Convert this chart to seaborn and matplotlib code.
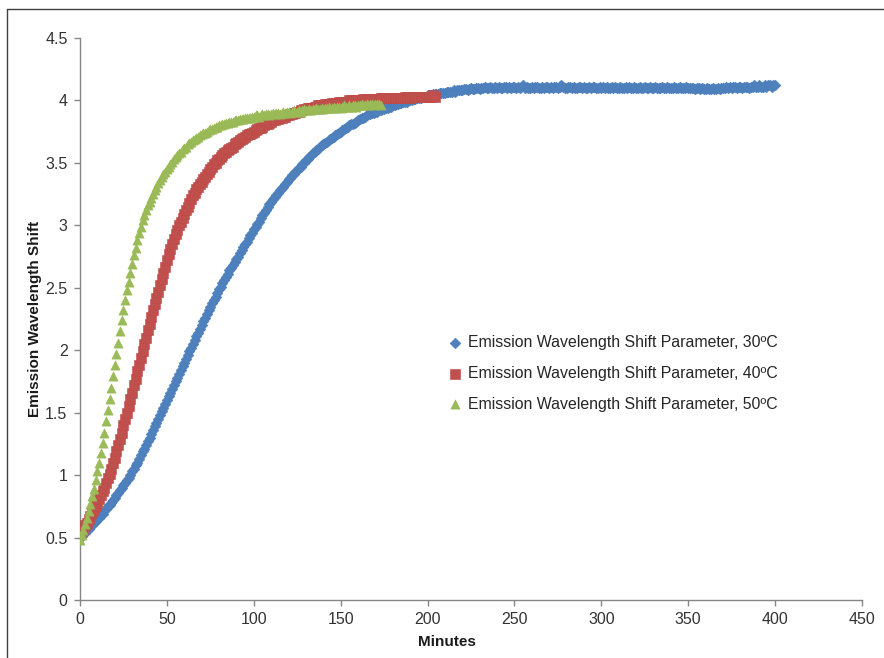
import numpy as np
import pandas as pd
import matplotlib
matplotlib.use("Agg")
import matplotlib.pyplot as plt
from matplotlib.lines import Line2D
import seaborn as sns

# Emission wavelength shift parameter, one reading per minute
# 30 C: 0..400 min
shift_30 = [
    0.50, 0.51, 0.53, 0.54, 0.56, 0.57, 0.59, 0.60, 0.62, 0.63,
    0.65, 0.66, 0.68, 0.69, 0.71, 0.73, 0.75, 0.76, 0.78, 0.80,
    0.82, 0.84, 0.86, 0.88, 0.90, 0.92, 0.94, 0.96, 0.98, 1.00,
    1.03, 1.05, 1.08, 1.10, 1.13, 1.16, 1.19, 1.21, 1.24, 1.27,
    1.30, 1.33, 1.36, 1.39, 1.42, 1.45, 1.48, 1.51, 1.54, 1.57,
    1.60, 1.63, 1.66, 1.69, 1.72, 1.75, 1.78, 1.81, 1.84, 1.87,
    1.90, 1.93, 1.96, 1.99, 2.02, 2.05, 2.08, 2.11, 2.14, 2.17,
    2.20, 2.23, 2.26, 2.29, 2.32, 2.35, 2.38, 2.40, 2.43, 2.46,
    2.49, 2.51, 2.54, 2.56, 2.59, 2.61, 2.64, 2.66, 2.68, 2.71,
    2.73, 2.75, 2.78, 2.80, 2.83, 2.85, 2.87, 2.90, 2.92, 2.94,
    2.97, 2.99, 3.01, 3.03, 3.06, 3.08, 3.10, 3.12, 3.15, 3.17,
    3.19, 3.21, 3.23, 3.24, 3.26, 3.28, 3.30, 3.31, 3.33, 3.35,
    3.37, 3.38, 3.40, 3.41, 3.43, 3.44, 3.46, 3.47, 3.49, 3.50,
    3.52, 3.53, 3.55, 3.56, 3.58, 3.59, 3.60, 3.61, 3.63, 3.64,
    3.65, 3.66, 3.67, 3.68, 3.69, 3.70, 3.71, 3.72, 3.73, 3.74,
    3.75, 3.76, 3.77, 3.78, 3.79, 3.80, 3.81, 3.81, 3.82, 3.83,
    3.84, 3.85, 3.86, 3.86, 3.87, 3.88, 3.89, 3.89, 3.90, 3.90,
    3.91, 3.91, 3.92, 3.92, 3.93, 3.93, 3.94, 3.94, 3.95, 3.95,
    3.96, 3.96, 3.97, 3.97, 3.98, 3.98, 3.99, 3.99, 3.99, 4.00,
    4.00, 4.00, 4.01, 4.01, 4.02, 4.02, 4.02, 4.03, 4.03, 4.03,
    4.04, 4.04, 4.04, 4.05, 4.05, 4.05, 4.05, 4.06, 4.06, 4.06,
    4.06, 4.07, 4.07, 4.07, 4.07, 4.08, 4.07, 4.08, 4.08, 4.08,
    4.08, 4.09, 4.09, 4.08, 4.09, 4.10, 4.09, 4.09, 4.10, 4.10,
    4.09, 4.10, 4.10, 4.11, 4.10, 4.10, 4.11, 4.10, 4.10, 4.11,
    4.10, 4.11, 4.10, 4.10, 4.11, 4.11, 4.10, 4.11, 4.10, 4.11,
    4.11, 4.10, 4.11, 4.10, 4.11, 4.12, 4.10, 4.11, 4.10, 4.10,
    4.11, 4.10, 4.11, 4.11, 4.10, 4.10, 4.11, 4.10, 4.11, 4.11,
    4.10, 4.11, 4.10, 4.11, 4.11, 4.10, 4.11, 4.12, 4.11, 4.10,
    4.10, 4.11, 4.11, 4.10, 4.11, 4.10, 4.10, 4.11, 4.11, 4.10,
    4.11, 4.10, 4.10, 4.11, 4.10, 4.11, 4.11, 4.10, 4.10, 4.11,
    4.10, 4.11, 4.10, 4.11, 4.10, 4.10, 4.11, 4.10, 4.11, 4.10,
    4.10, 4.11, 4.10, 4.10, 4.11, 4.10, 4.11, 4.10, 4.10, 4.11,
    4.10, 4.10, 4.11, 4.10, 4.10, 4.11, 4.10, 4.10, 4.11, 4.10,
    4.10, 4.11, 4.10, 4.10, 4.10, 4.11, 4.10, 4.10, 4.11, 4.10,
    4.10, 4.10, 4.11, 4.10, 4.10, 4.11, 4.10, 4.10, 4.10, 4.11,
    4.10, 4.10, 4.10, 4.10, 4.09, 4.10, 4.10, 4.09, 4.10, 4.09,
    4.09, 4.10, 4.09, 4.09, 4.10, 4.09, 4.09, 4.10, 4.09, 4.10,
    4.10, 4.10, 4.11, 4.10, 4.11, 4.10, 4.11, 4.11, 4.10, 4.11,
    4.11, 4.10, 4.11, 4.11, 4.11, 4.10, 4.11, 4.11, 4.12, 4.11,
    4.11, 4.12, 4.11, 4.11, 4.12, 4.11, 4.12, 4.12, 4.11, 4.12,
    4.12,
]
# 40 C: 0..204 min
shift_40 = [
    0.53, 0.55, 0.57, 0.60, 0.62, 0.65, 0.67, 0.70, 0.72, 0.75,
    0.78, 0.81, 0.84, 0.87, 0.90, 0.94, 0.98, 1.01, 1.05, 1.10,
    1.14, 1.19, 1.24, 1.29, 1.34, 1.40, 1.45, 1.50, 1.55, 1.61,
    1.66, 1.72, 1.77, 1.83, 1.88, 1.94, 1.99, 2.05, 2.10, 2.16,
    2.21, 2.27, 2.32, 2.37, 2.42, 2.47, 2.52, 2.57, 2.62, 2.67,
    2.72, 2.77, 2.81, 2.85, 2.89, 2.93, 2.96, 3.00, 3.03, 3.06,
    3.09, 3.12, 3.15, 3.18, 3.21, 3.24, 3.26, 3.29, 3.31, 3.33,
    3.35, 3.37, 3.39, 3.41, 3.43, 3.45, 3.47, 3.49, 3.50, 3.52,
    3.53, 3.55, 3.56, 3.58, 3.59, 3.60, 3.61, 3.62, 3.63, 3.65,
    3.66, 3.67, 3.68, 3.69, 3.70, 3.71, 3.72, 3.73, 3.73, 3.74,
    3.75, 3.76, 3.77, 3.78, 3.78, 3.79, 3.80, 3.81, 3.81, 3.82,
    3.83, 3.84, 3.84, 3.85, 3.85, 3.86, 3.86, 3.87, 3.87, 3.88,
    3.88, 3.89, 3.89, 3.90, 3.90, 3.91, 3.91, 3.92, 3.92, 3.93,
    3.93, 3.94, 3.94, 3.94, 3.94, 3.95, 3.95, 3.96, 3.96, 3.96,
    3.96, 3.97, 3.97, 3.97, 3.97, 3.98, 3.98, 3.98, 3.98, 3.99,
    3.99, 3.99, 3.99, 3.99, 3.99, 4.00, 4.00, 4.00, 4.00, 4.00,
    4.00, 4.00, 4.00, 4.01, 4.01, 4.01, 4.01, 4.01, 4.01, 4.01,
    4.01, 4.01, 4.01, 4.02, 4.02, 4.02, 4.02, 4.02, 4.02, 4.02,
    4.02, 4.02, 4.02, 4.02, 4.02, 4.02, 4.02, 4.03, 4.03, 4.02,
    4.02, 4.03, 4.03, 4.03, 4.03, 4.03, 4.03, 4.03, 4.03, 4.03,
    4.03, 4.03, 4.03, 4.04, 4.03,
]
# 50 C: 0..173 min
shift_50 = [
    0.48, 0.52, 0.56, 0.61, 0.66, 0.71, 0.77, 0.83, 0.89, 0.96,
    1.03, 1.10, 1.18, 1.26, 1.34, 1.43, 1.52, 1.61, 1.70, 1.79,
    1.88, 1.97, 2.06, 2.15, 2.24, 2.32, 2.40, 2.48, 2.55, 2.62,
    2.69, 2.76, 2.82, 2.88, 2.94, 2.99, 3.04, 3.08, 3.12, 3.16,
    3.19, 3.22, 3.25, 3.28, 3.31, 3.34, 3.36, 3.39, 3.41, 3.43,
    3.45, 3.47, 3.49, 3.51, 3.53, 3.55, 3.56, 3.58, 3.59, 3.61,
    3.62, 3.63, 3.65, 3.66, 3.67, 3.68, 3.69, 3.70, 3.71, 3.72,
    3.73, 3.74, 3.74, 3.75, 3.76, 3.77, 3.77, 3.78, 3.79, 3.79,
    3.80, 3.80, 3.81, 3.81, 3.82, 3.82, 3.83, 3.83, 3.83, 3.84,
    3.84, 3.84, 3.85, 3.85, 3.85, 3.86, 3.86, 3.86, 3.86, 3.87,
    3.87, 3.88, 3.88, 3.87, 3.88, 3.89, 3.88, 3.89, 3.89, 3.88,
    3.89, 3.90, 3.89, 3.90, 3.90, 3.89, 3.90, 3.91, 3.90, 3.91,
    3.91, 3.90, 3.91, 3.92, 3.91, 3.91, 3.92, 3.91, 3.92, 3.93,
    3.92, 3.92, 3.93, 3.92, 3.93, 3.93, 3.94, 3.93, 3.93, 3.94,
    3.93, 3.94, 3.94, 3.95, 3.94, 3.94, 3.95, 3.94, 3.95, 3.95,
    3.94, 3.95, 3.96, 3.95, 3.95, 3.96, 3.95, 3.96, 3.96, 3.95,
    3.96, 3.96, 3.97, 3.96, 3.96, 3.97, 3.96, 3.97, 3.97, 3.96,
    3.97, 3.97, 3.97, 3.96,
]
# sampling times (minutes), one reading per minute
minutes_30 = np.arange(len(shift_30))
minutes_40 = np.arange(len(shift_40))
minutes_50 = np.arange(len(shift_50))

labels = [
    "Emission Wavelength Shift Parameter, 30ºC",
    "Emission Wavelength Shift Parameter, 40ºC",
    "Emission Wavelength Shift Parameter, 50ºC",
]
x_ticks = [0, 50, 100, 150, 200, 250, 300, 350, 400, 450]
y_ticks = [0, 0.5, 1, 1.5, 2, 2.5, 3, 3.5, 4, 4.5]

sns.set_style("white")
plt.rcParams["font.family"] = ["Liberation Sans", "DejaVu Sans"]

fig = plt.figure(figsize=(8.84, 6.58), dpi=100)
ax = fig.add_axes([80 / 884, 1 - 600 / 658, 782 / 884, 562 / 658])

# Excel 2007 style marker series
sns.scatterplot(x=minutes_30, y=shift_30, marker="D", s=30, color="#4F81BD",
                edgecolor="#4A7EBB", linewidth=0.4, label=labels[0], ax=ax, zorder=3)
sns.scatterplot(x=minutes_40, y=shift_40, marker="s", s=42, color="#C0504D",
                edgecolor="#BE4B48", linewidth=0.4, label=labels[1], ax=ax, zorder=4)
sns.scatterplot(x=minutes_50, y=shift_50, marker="^", s=44, color="#9BBB59",
                edgecolor="#98B954", linewidth=0.4, label=labels[2], ax=ax, zorder=5)

ax.set_xlim(0, 450)
ax.set_ylim(0, 4.5)
ax.set_xticks(x_ticks)
ax.set_yticks(y_ticks)
ax.set_xticklabels([str(t) for t in x_ticks])
ax.set_yticklabels(["0", "0.5", "1", "1.5", "2", "2.5", "3", "3.5", "4", "4.5"])

for side in ["top", "right"]:
    ax.spines[side].set_visible(False)
for side in ["left", "bottom"]:
    ax.spines[side].set_color("#868686")
    ax.spines[side].set_linewidth(1.0)
ax.tick_params(axis="both", direction="out", length=4, width=1, color="#868686",
               labelsize=11.5, labelcolor="#333333", pad=5)
ax.tick_params(axis="x", bottom=True)
ax.tick_params(axis="y", left=True)

ax.set_xlabel("Minutes", fontsize=11, fontweight="bold", color="#1a1a1a")
ax.set_ylabel("Emission Wavelength Shift", fontsize=11, fontweight="bold", color="#1a1a1a")
ax.xaxis.set_label_coords((447 - 80) / 782, -(635 - 600) / 562)
ax.yaxis.set_label_coords(-(80 - 42) / 782, 0.5)

leg = ax.legend(loc="center left", bbox_to_anchor=((447 - 80) / 782, (600 - 373.5) / 562),
                frameon=False, fontsize=11.4, handlelength=1.0, handletextpad=0.31,
                labelspacing=0.98, borderpad=0, borderaxespad=0)
for t in leg.get_texts():
    t.set_color("#262626")

# chart-area border (only top and left visible in the crop)
fig.add_artist(Line2D([7 / 884, 7 / 884], [0, 1 - 9 / 658], transform=fig.transFigure,
                      color="#404040", linewidth=1.0))
fig.add_artist(Line2D([7 / 884, 1], [1 - 9 / 658, 1 - 9 / 658], transform=fig.transFigure,
                      color="#404040", linewidth=1.0))

fig.savefig("out.png", dpi=100)
